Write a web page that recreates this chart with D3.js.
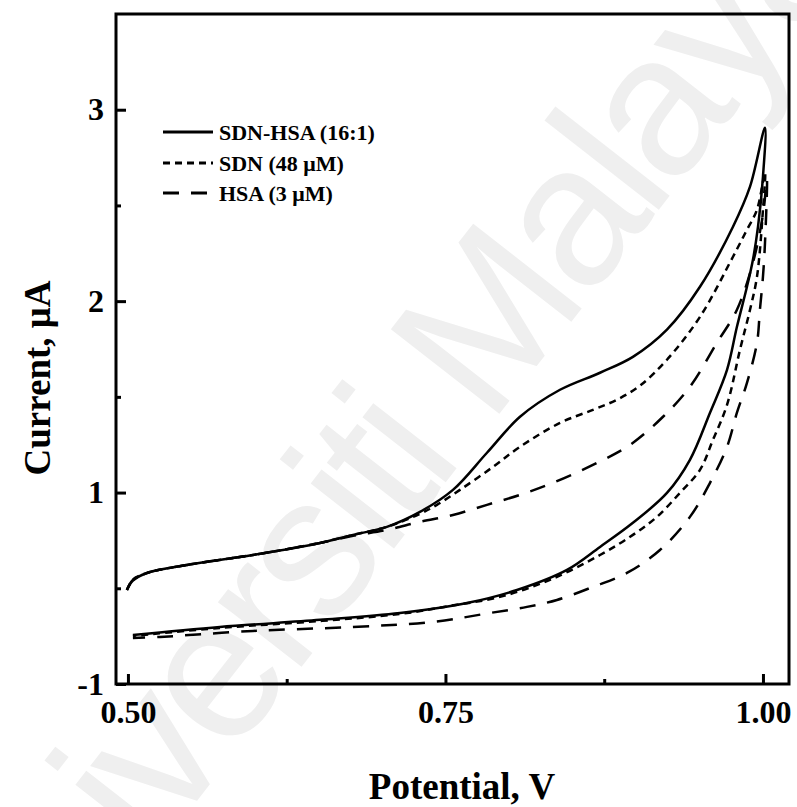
<!DOCTYPE html>
<html>
<head>
<meta charset="utf-8">
<script src="https://cdn.jsdelivr.net/npm/d3@7"></script>
<style>
  body { margin: 0; background: #fff; }
  svg { display: block; font-family: "Liberation Serif", "Times New Roman", serif; }
</style>
</head>
<body>
<div id="chart"></div>
<script>
// cyclic voltammograms: potential (V) and current (uA), forward scan then reverse scan
const sdnHsaE = [0.4992, 0.5039, 0.515, 0.5465, 0.5984, 0.6512, 0.6772, 0.7039, 0.7299, 0.7559, 0.7827, 0.8087, 0.8402, 0.8717, 0.8976, 0.9244, 0.9504, 0.9764, 0.9898, 1.0016,
  1.0, 0.9961, 0.9921, 0.9874, 0.9795, 0.9717, 0.9583, 0.9425, 0.9244, 0.8976, 0.8717, 0.8457, 0.8063, 0.7669, 0.7142, 0.6512, 0.5724, 0.5039];
const sdnHsaI = [0.491, 0.54, 0.58, 0.622, 0.674, 0.737, 0.779, 0.821, 0.899, 1.014, 1.208, 1.396, 1.537, 1.626, 1.709, 1.851, 2.075, 2.389, 2.598, 2.906,
  2.65, 2.389, 2.216, 2.075, 1.866, 1.641, 1.417, 1.171, 0.998, 0.842, 0.716, 0.596, 0.491, 0.423, 0.371, 0.335, 0.298, 0.256];

const sdnE = [0.4992, 0.5039, 0.515, 0.5465, 0.5984, 0.6512, 0.6772, 0.7039, 0.7299, 0.7433, 0.7614, 0.7874, 0.8087, 0.8402, 0.8661, 0.885, 0.9031, 0.9244, 0.9504, 0.9764, 0.9874, 0.9953, 1.0016,
  1.0, 0.9953, 0.9898, 0.9819, 0.9717, 0.9606, 0.9504, 0.9346, 0.9165, 0.8976, 0.8717, 0.8323, 0.7929, 0.7535, 0.7142, 0.6512, 0.5724, 0.5039];
const sdnI = [0.491, 0.544, 0.58, 0.622, 0.674, 0.737, 0.779, 0.821, 0.889, 0.936, 1.014, 1.134, 1.239, 1.364, 1.432, 1.485, 1.558, 1.694, 1.918, 2.232, 2.373, 2.478, 2.671,
  2.478, 2.128, 1.955, 1.746, 1.458, 1.275, 1.119, 0.998, 0.873, 0.779, 0.674, 0.544, 0.455, 0.408, 0.366, 0.329, 0.293, 0.251];

const hsaE = [0.4992, 0.5039, 0.515, 0.5465, 0.5984, 0.6512, 0.6772, 0.7039, 0.7299, 0.7559, 0.7827, 0.8087, 0.8346, 0.8693, 0.8953, 0.9213, 0.9425, 0.9638, 0.9795, 0.9921, 1.0, 1.0031,
  1.0016, 1.0, 0.9976, 0.9953, 0.9874, 0.9795, 0.9717, 0.9583, 0.9425, 0.9189, 0.8929, 0.8661, 0.8378, 0.8142, 0.785, 0.7402, 0.6772, 0.5984, 0.5252, 0.5039];
const hsaI = [0.491, 0.544, 0.58, 0.622, 0.674, 0.737, 0.774, 0.805, 0.847, 0.883, 0.936, 0.988, 1.051, 1.155, 1.249, 1.396, 1.553, 1.783, 1.955, 2.201, 2.452, 2.635,
  2.305, 2.128, 1.955, 1.783, 1.573, 1.417, 1.239, 1.051, 0.873, 0.7, 0.58, 0.507, 0.439, 0.403, 0.371, 0.324, 0.298, 0.277, 0.246, 0.24];

const seriesNames = ["SDN-HSA (16:1)", "SDN (48 \u03bcM)", "HSA (3 \u03bcM)"];
const xTickValues = [0.5, 0.75, 1.0];
const xTickLabels = ["0.50", "0.75", "1.00"];
const xMinorTicks = [0.625, 0.875];
const yTickValues = [0, 1, 2, 3];
const yTickLabels = ["-1", "1", "2", "3"];
const yMinorTicks = [0.5, 1.5, 2.5];

const width = 797;
const height = 807;
const margin = { top: 14, right: 8, bottom: 123, left: 116 };

const svg = d3.select("#chart")
  .append("svg")
  .attr("width", width)
  .attr("height", height)
  .attr("viewBox", `0 0 ${width} ${height}`);

svg.append("rect")
  .attr("width", width)
  .attr("height", height)
  .attr("fill", "#fff");

// faint watermark behind the plot
svg.append("text")
  .attr("transform", "translate(375,460) rotate(-52)")
  .attr("text-anchor", "middle")
  .attr("dominant-baseline", "central")
  .attr("font-family", "'Liberation Sans', Arial, sans-serif")
  .attr("font-size", 200)
  .attr("letter-spacing", -8)
  .attr("fill", "#efefef")
  .text("Universiti Malaya");

const x = d3.scaleLinear([0.4906, 1.0205], [margin.left, width - margin.right]);
const y = d3.scaleLinear([0, 3.5], [height - margin.bottom, margin.top]);

const bottom = height - margin.bottom;

// major and minor ticks, pointing inward
svg.append("g")
  .attr("transform", `translate(0,${bottom})`)
  .call(d3.axisBottom(x).tickValues(xTickValues).tickSize(-10).tickPadding(16)
    .tickFormat((d, i) => xTickLabels[i]));
svg.append("g")
  .attr("transform", `translate(0,${bottom})`)
  .call(d3.axisBottom(x).tickValues(xMinorTicks).tickSize(-5).tickFormat(""));

svg.append("g")
  .attr("transform", `translate(${margin.left},0)`)
  .call(d3.axisLeft(y).tickValues(yTickValues).tickSize(-10).tickPadding(12)
    .tickFormat((d, i) => yTickLabels[i]));
svg.append("g")
  .attr("transform", `translate(${margin.left},0)`)
  .call(d3.axisLeft(y).tickValues(yMinorTicks).tickSize(-5).tickFormat(""));

svg.selectAll(".domain").remove();
svg.selectAll(".tick line").attr("stroke", "#000").attr("stroke-width", 3);
svg.selectAll(".tick text")
  .attr("fill", "#000")
  .attr("font-family", "'Liberation Serif', 'Times New Roman', serif")
  .attr("font-weight", "bold")
  .attr("font-size", 32);

// frame
svg.append("rect")
  .attr("x", margin.left)
  .attr("y", margin.top)
  .attr("width", width - margin.left - margin.right)
  .attr("height", bottom - margin.top)
  .attr("fill", "none")
  .attr("stroke", "#000")
  .attr("stroke-width", 3);

// curves
const line = d3.line()
  .x(d => x(d[0]))
  .y(d => y(d[1]))
  .curve(d3.curveCatmullRom.alpha(0.5));

const series = [
  { name: seriesNames[0], data: d3.zip(sdnHsaE, sdnHsaI), dash: null },
  { name: seriesNames[1], data: d3.zip(sdnE, sdnI), dash: "7,5" },
  { name: seriesNames[2], data: d3.zip(hsaE, hsaI), dash: "16,12" }
];

svg.selectAll("path.cv")
  .data(series)
  .enter()
  .append("path")
  .attr("class", "cv")
  .attr("d", d => line(d.data))
  .attr("fill", "none")
  .attr("stroke", "#000")
  .attr("stroke-width", 2.5)
  .attr("stroke-dasharray", d => d.dash);

// legend
const legend = svg.append("g");
const rows = [132, 163, 193];
series.forEach((s, i) => {
  legend.append("line")
    .attr("x1", 163)
    .attr("x2", 213)
    .attr("y1", rows[i])
    .attr("y2", rows[i])
    .attr("stroke", "#000")
    .attr("stroke-width", 3)
    .attr("stroke-dasharray", s.dash);
  legend.append("text")
    .attr("x", 219)
    .attr("y", rows[i])
    .attr("dominant-baseline", "central")
    .attr("font-weight", "bold")
    .attr("font-size", 22)
    .attr("fill", "#000")
    .text(s.name);
});

// axis titles
svg.append("text")
  .attr("x", 462)
  .attr("y", 799)
  .attr("text-anchor", "middle")
  .attr("font-weight", "bold")
  .attr("font-size", 37)
  .text("Potential, V");

svg.append("text")
  .attr("transform", "translate(50,378) rotate(-90)")
  .attr("text-anchor", "middle")
  .attr("font-weight", "bold")
  .attr("font-size", 37)
  .text("Current, \u03bcA");
</script>
</body>
</html>
